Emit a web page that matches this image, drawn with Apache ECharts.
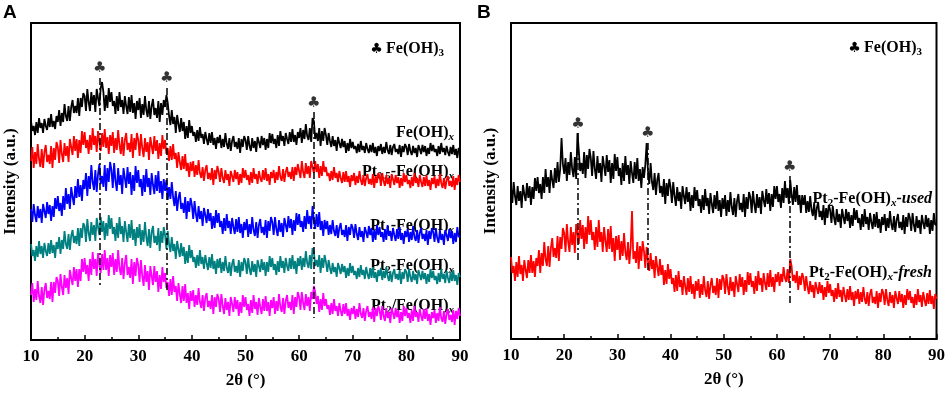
<!DOCTYPE html>
<html><head><meta charset="utf-8">
<script src="https://cdn.jsdelivr.net/npm/echarts@6/dist/echarts.min.js"></script>
<style>html,body{margin:0;padding:0;background:#fff}#c{width:948px;height:396px}</style>
</head><body><div id="c"></div>
<script>
// 2θ sampling (0.25° steps, 10–90)
const angles = [];
for (let i = 0; i <= 320; i++) angles.push(10 + i * 0.25);
const xTicks = [10, 20, 30, 40, 50, 60, 70, 80, 90];

// Panel A series (intensity, a.u., with the vertical offsets of the stacked plot)
const feOHx = [
219,209,214,205,218,207,222,212,217,207,221,214,210,222,213,226,213,219,211,224,
218,230,214,227,218,236,224,219,234,219,233,240,227,234,227,242,224,242,233,247,
244,229,251,238,229,248,235,245,228,251,242,234,252,258,248,229,245,232,252,238,
248,234,239,226,244,229,248,233,240,226,244,234,226,243,228,245,227,237,221,239,
230,242,222,236,225,244,230,223,239,221,234,241,225,232,222,239,218,237,225,240,
233,245,237,224,215,230,216,223,207,225,216,208,222,209,218,201,214,202,220,207,
214,204,208,198,210,199,213,202,206,196,208,201,195,207,197,208,195,202,191,203,
197,205,192,201,193,207,196,191,202,189,199,204,193,198,191,202,187,201,193,204,
200,190,204,194,189,202,192,199,188,203,198,192,204,195,202,190,201,192,207,197,
206,196,201,192,205,194,209,199,204,194,207,201,196,208,198,211,198,205,195,208,
202,212,197,210,201,216,204,200,212,198,222,219,201,207,199,212,194,209,199,212,
205,195,207,199,193,204,194,200,189,203,197,192,201,193,199,187,197,189,201,192,
198,191,194,187,196,188,199,190,194,187,197,191,187,195,188,197,187,193,184,194,
189,196,186,193,187,198,190,186,195,185,193,196,188,191,186,195,183,194,188,196,
193,185,196,189,185,194,187,192,183,195,191,186,195,188,194,184,192,186,197,189,
195,188,191,184,194,186,197,188,192,185,194,188,184,193,186,195,185,191,182,192,
190];
const pt05 = [
179,193,172,188,176,196,181,173,191,172,188,195,178,185,176,194,172,192,180,198,
193,177,200,186,178,197,184,194,178,201,193,185,204,189,201,182,200,187,209,195,
208,192,200,186,205,190,212,195,204,188,209,198,189,207,193,211,192,203,186,205,
194,208,187,202,190,210,195,186,203,184,200,207,190,197,188,206,182,202,190,207,
200,184,206,192,183,202,188,198,180,203,194,186,204,189,200,181,197,184,205,191,
200,186,192,179,194,180,196,181,187,172,188,178,170,184,171,186,169,177,163,178,
169,179,163,175,165,180,167,162,173,159,170,175,161,167,160,172,155,170,161,174,
168,158,172,162,157,170,160,166,154,169,164,158,170,161,168,155,166,157,172,162,
170,160,165,155,168,157,172,161,166,156,169,162,158,170,160,172,159,166,155,168,
162,170,157,168,160,174,163,159,171,158,168,173,163,168,161,173,159,173,165,176,
174,162,179,168,162,177,166,174,162,179,181,167,179,168,176,162,174,164,179,168,
173,164,167,159,169,160,173,162,167,158,169,162,157,168,158,169,158,164,153,165,
159,167,155,164,157,169,160,155,165,154,162,166,156,161,155,166,152,164,157,167,
164,154,167,159,154,165,156,162,152,166,161,155,165,157,163,152,162,154,167,158,
165,156,160,152,163,154,167,157,162,153,165,158,153,163,154,165,154,160,150,162,
156,164,152,161,154,166,157,152,162,151,160,164,154,159,153,164,150,162,155,165,
158];
const pt1 = [
131,118,136,125,118,134,122,131,117,136,129,122,138,126,135,119,134,123,142,131,
144,129,137,124,144,130,152,136,146,131,153,143,135,154,142,161,143,155,139,160,
151,167,144,164,151,175,158,150,170,148,166,176,156,164,153,175,149,172,158,178,
170,152,177,159,149,172,155,165,146,172,162,152,173,156,168,145,165,149,174,157,
170,153,161,144,165,148,171,153,162,145,167,155,146,165,149,169,147,159,141,161,
149,160,140,153,141,158,143,134,149,129,142,148,131,137,127,143,121,139,128,142,
135,121,139,126,118,134,121,129,114,132,125,117,131,119,127,111,124,112,130,117,
127,113,119,106,122,109,126,112,119,106,122,113,106,121,108,123,107,116,102,118,
110,121,103,116,106,123,110,104,118,102,115,121,107,113,105,120,102,119,109,123,
118,105,123,111,104,120,108,117,103,122,115,108,124,112,121,105,120,109,127,115,
126,113,119,108,124,111,130,116,124,111,134,119,111,126,113,128,110,119,104,120,
111,119,105,115,106,120,109,104,115,102,112,117,105,110,103,115,99,113,105,116,
112,102,116,106,100,113,103,109,98,113,108,102,114,105,112,98,110,100,115,105,
113,103,108,98,111,100,115,104,109,99,112,105,99,111,101,113,100,107,96,109,
103,111,98,108,100,114,103,99,110,97,107,112,101,106,99,110,95,109,101,112,
108,98,112,102,97,110,100,106,95,110,105,99,111,102,109,96,107,98,113,103,
104];
const pt2 = [
96,84,90,79,94,83,99,86,94,82,97,89,84,97,86,100,87,95,82,98,
91,103,86,100,91,109,96,91,106,90,104,110,97,104,96,112,94,112,102,117,
114,98,121,107,99,118,105,115,99,122,113,105,123,108,119,100,117,104,125,111,
122,106,113,99,117,102,123,106,114,98,119,108,98,116,102,120,100,111,94,113,
102,116,95,110,98,118,103,94,111,92,108,114,97,104,95,112,89,109,97,113,
105,91,109,96,88,103,89,96,81,99,91,83,97,84,93,76,89,77,95,82,
90,78,83,72,85,74,90,76,83,71,85,77,70,83,72,86,71,79,66,81,
72,82,67,78,69,84,72,67,78,64,76,81,68,74,67,80,63,78,69,82,
78,66,82,71,65,79,68,76,63,80,74,68,81,70,78,64,78,68,84,73,
82,70,76,65,79,68,84,72,79,67,82,74,69,82,71,85,71,79,66,82,
74,84,70,82,73,89,77,72,85,71,92,88,74,80,73,85,67,82,72,85,
78,68,80,72,66,77,68,73,63,77,72,66,76,68,74,62,72,64,77,67,
74,65,69,61,72,63,75,65,70,61,73,66,61,72,62,73,62,68,58,70,
64,72,60,69,62,73,64,59,69,58,67,71,61,66,60,70,56,68,61,71,
68,58,71,63,58,69,60,66,56,70,65,60,69,61,67,56,66,58,71,62,
69,60,64,56,67,58,71,61,66,57,69,62,57,68,59,70,59,65,55,67,
63];
const pt2Slash = [
45,57,38,51,40,59,44,37,53,35,50,57,42,49,41,58,38,58,47,63,
59,44,66,53,45,65,52,62,46,70,62,55,73,59,71,53,71,59,81,68,
82,66,75,59,81,65,88,71,81,64,87,76,67,86,70,90,70,82,64,85,
73,87,65,81,68,90,72,65,82,61,77,85,65,73,62,81,56,78,64,82,
75,58,80,64,54,75,58,69,50,74,64,55,74,58,69,48,65,51,73,58,
67,52,58,44,61,45,64,48,54,39,57,46,37,54,39,56,37,47,31,49,
39,50,33,45,35,52,38,32,45,29,42,47,33,39,31,45,26,43,33,46,
41,28,46,34,26,42,30,38,24,43,36,28,43,31,40,24,38,27,45,33,
43,30,36,24,40,27,45,31,38,25,42,33,26,41,29,44,29,38,24,40,
32,43,26,39,29,46,33,28,42,26,39,45,32,38,30,45,26,43,33,48,
43,30,48,37,30,46,34,43,29,48,41,54,48,36,44,28,41,30,47,34,
41,31,35,25,37,26,41,29,34,24,37,29,24,36,26,37,24,31,20,32,
26,34,21,31,23,37,26,22,32,19,29,34,23,28,21,33,18,32,24,34,
30,20,34,24,19,32,22,28,17,32,27,21,32,23,30,17,28,19,34,24,
32,22,27,17,30,19,34,23,28,18,31,24,19,31,21,32,19,26,15,28,
22,30,17,27,19,33,22,18,29,16,26,31,20,25,18,30,15,29,21,32,
24];

// Panel B series
const pt2Used = [
152,136,157,143,134,153,138,148,131,154,145,138,156,141,153,134,152,140,161,148,
162,146,155,140,162,146,170,152,162,146,169,159,151,171,156,177,157,170,201,175,
165,181,158,177,164,187,170,162,182,160,206,188,168,176,165,187,161,184,170,190,
181,163,188,170,160,183,166,176,157,183,173,163,184,167,179,156,176,160,185,168,
182,163,171,154,176,158,183,164,174,155,178,166,156,177,160,181,158,170,151,172,
161,174,196,168,155,176,157,149,166,144,159,166,146,153,142,160,135,156,143,160,
152,136,157,143,133,152,138,147,130,153,143,135,152,137,147,128,144,131,152,138,
149,133,140,126,144,129,150,133,141,125,146,135,126,144,130,148,128,139,122,141,
130,144,123,139,127,147,132,124,141,122,138,145,129,136,127,145,122,142,130,147,
142,126,148,135,126,145,131,142,125,148,139,132,150,135,146,128,145,132,153,140,
153,137,145,131,151,136,158,141,151,135,159,145,134,152,137,154,134,144,126,144,
134,144,126,138,127,143,129,123,136,119,131,137,122,128,119,134,114,131,121,134,
129,116,133,121,114,130,117,125,111,130,122,115,130,118,127,111,124,113,131,119,
129,116,121,109,125,112,130,115,122,109,126,117,110,125,112,127,111,120,106,122,
114,125,108,121,111,128,115,109,123,107,119,125,111,117,109,124,105,122,112,126,
121,108,126,114,107,123,111,119,105,124,116,110,124,112,121,105,119,108,126,114,
115];
const pt2Fresh = [
82,66,73,58,77,62,83,65,74,58,79,69,61,79,66,84,66,78,62,81,
73,89,66,86,73,97,80,73,93,72,91,101,82,91,81,103,78,102,90,111,
106,87,115,97,87,112,94,107,86,115,106,95,119,100,114,90,112,95,123,104,
119,99,107,89,112,92,119,97,107,87,112,98,87,110,90,113,87,101,78,103,
89,104,79,98,83,106,87,79,97,75,92,128,80,88,76,97,70,93,78,98,
88,71,92,78,68,86,70,79,61,83,72,63,80,64,74,54,69,55,75,60,
70,55,61,47,64,48,68,52,59,44,63,53,44,61,47,63,45,55,40,58,
48,60,41,55,44,63,49,42,58,40,54,61,46,53,44,61,41,60,49,64,
60,45,65,52,44,62,48,57,42,63,55,47,65,52,62,44,59,47,67,54,
66,52,58,45,63,48,68,54,61,47,66,56,49,66,52,69,52,62,47,65,
57,67,53,65,57,72,61,57,70,56,80,73,58,64,56,68,49,63,54,66,
61,48,63,52,45,58,47,54,41,57,51,45,57,46,54,39,52,42,58,46,
55,43,49,37,51,40,56,42,49,37,52,44,37,50,39,53,39,47,33,48,
40,50,35,47,37,52,40,35,47,33,45,50,36,42,35,48,31,46,37,50,
46,34,50,39,33,47,36,44,31,48,41,35,48,37,45,31,44,34,50,39,
48,36,42,31,45,34,50,37,44,32,47,39,33,46,35,49,35,43,30,45,
40];

// Fe(OH)3 reflections: positions, club heights and drop-line ranges
const peaksA = [22.8, 35.3, 62.7];
const clubYA = [272, 262, 237];
const dropTopA = [262, 252, 228];
const dropBottomA = [55, 50, 22];
const peaksB = [22.6, 35.7, 62.4];
const clubYB = [215, 206, 172];
const dropTopB = [206, 196, 163];
const dropBottomB = [76, 66, 33];

const SERIF = '"Liberation Serif","Times New Roman",serif';
const chart = echarts.init(document.getElementById('c'), null, {renderer: 'canvas'});

function xAxisCfg(gi) {
  return {
    type: 'value', gridIndex: gi, min: 10, max: 90, interval: 10,
    name: '2θ (°)', nameLocation: 'middle', nameGap: 32,
    nameTextStyle: {fontFamily: SERIF, fontWeight: 'bold', fontSize: 17, color: '#000'},
    axisLine: {show: true, onZero: false, lineStyle: {color: '#000', width: 2}},
    axisTick: {show: true, inside: true, length: 5, lineStyle: {color: '#000', width: 1.5}},
    minorTick: {show: true, splitNumber: 2, length: 3, lineStyle: {color: '#000', width: 1.5}},
    axisLabel: {fontFamily: SERIF, fontWeight: 'bold', fontSize: 17, color: '#000', margin: 8,
      formatter: v => xTicks.includes(v) ? String(v) : ''},
    splitLine: {show: false}
  };
}
function yAxisCfg(gi, max) {
  return {
    type: 'value', gridIndex: gi, min: 0, max: max,
    name: 'Intensity (a.u.)', nameLocation: 'middle', nameGap: 12,
    nameTextStyle: {fontFamily: SERIF, fontWeight: 'bold', fontSize: 17, color: '#000'},
    axisLine: {show: true, lineStyle: {color: '#000', width: 2}},
    axisTick: {show: false}, axisLabel: {show: false}, splitLine: {show: false}
  };
}
function lineSeries(data, color, xi, yi) {
  return {
    type: 'line', xAxisIndex: xi, yAxisIndex: yi, showSymbol: false, symbol: 'none',
    data: angles.map((a, i) => [a, data[i]]), silent: true, animation: false,
    lineStyle: {color: color, width: 1.8}
  };
}
function markSeries(peaks, clubY, top, bottom, xi, yi) {
  return {
    type: 'scatter', xAxisIndex: xi, yAxisIndex: yi, symbolSize: 0.1, silent: true, animation: false,
    data: peaks.map((p, i) => [p, clubY[i]]),
    itemStyle: {color: '#000'},
    label: {show: true, position: 'inside', formatter: '♣', fontSize: 15, color: '#000',
      fontFamily: '"DejaVu Sans",sans-serif'},
    markLine: {
      silent: true, symbol: 'none', animation: false, label: {show: false},
      lineStyle: {color: '#000', width: 1.5, type: [7, 3, 2, 3]},
      data: peaks.map((p, i) => [{coord: [p, top[i]]}, {coord: [p, bottom[i]]}])
    }
  };
}
const rich = {
  b: {fontFamily: SERIF, fontWeight: 'bold', fontSize: 16, color: '#000', lineHeight: 20},
  s: {fontFamily: SERIF, fontWeight: 'bold', fontSize: 11, color: '#000', lineHeight: 20, verticalAlign: 'bottom', padding: [8, 0, 0, 0]},
  si: {fontFamily: SERIF, fontWeight: 'bold', fontStyle: 'italic', fontSize: 11, color: '#000', lineHeight: 20, verticalAlign: 'bottom', padding: [8, 0, 0, 0]},
  i: {fontFamily: SERIF, fontWeight: 'bold', fontStyle: 'italic', fontSize: 16, color: '#000', lineHeight: 20},
  c: {fontFamily: '"DejaVu Sans",sans-serif', fontSize: 14, color: '#000', lineHeight: 20}
};
function label(x, y, text) {
  return {type: 'text', x: x, y: y, silent: true,
    style: {text: text, rich: rich, align: 'right', verticalAlign: 'middle', fill: '#000'}};
}

chart.setOption({
  animation: false,
  backgroundColor: '#fff',
  grid: [
    {left: 31, top: 23, width: 429, height: 317, show: true, borderColor: '#000', borderWidth: 2},
    {left: 511, top: 23, width: 426, height: 316, show: true, borderColor: '#000', borderWidth: 2}
  ],
  xAxis: [xAxisCfg(0), xAxisCfg(1)],
  yAxis: [yAxisCfg(0, 317), yAxisCfg(1, 316)],
  series: [
    lineSeries(pt2Slash, '#ff00ff', 0, 0),
    lineSeries(pt2, '#008080', 0, 0),
    lineSeries(pt1, '#0000ff', 0, 0),
    lineSeries(pt05, '#ff0000', 0, 0),
    lineSeries(feOHx, '#000000', 0, 0),
    markSeries(peaksA, clubYA, dropTopA, dropBottomA, 0, 0),
    lineSeries(pt2Fresh, '#ff0000', 1, 1),
    lineSeries(pt2Used, '#000000', 1, 1),
    markSeries(peaksB, clubYB, dropTopB, dropBottomB, 1, 1)
  ],
  graphic: [
    {type: 'text', x: 3, y: 3, silent: true, style: {text: 'A', font: 'bold 19px "Liberation Sans",Arial,sans-serif', fill: '#000'}},
    {type: 'text', x: 477, y: 3, silent: true, style: {text: 'B', font: 'bold 19px "Liberation Sans",Arial,sans-serif', fill: '#000'}},
    label(444, 49, '{c|♣} {b|Fe(OH)}{s|3}'),
    label(454, 133, '{b|Fe(OH)}{si|x}'),
    label(454, 172, '{b|Pt}{s|0.5}{b|-Fe(OH)}{si|x}'),
    label(454, 226, '{b|Pt}{s|1}{b|-Fe(OH)}{si|x}'),
    label(454, 266, '{b|Pt}{s|2}{b|-Fe(OH)}{si|x}'),
    label(454, 306, '{b|Pt}{s|2}{b|/Fe(OH)}{si|x}'),
    label(922, 48, '{c|♣} {b|Fe(OH)}{s|3}'),
    label(932, 199, '{b|Pt}{s|2}{b|-Fe(OH)}{si|x}{i|-used}'),
    label(932, 273, '{b|Pt}{s|2}{b|-Fe(OH)}{si|x}{i|-fresh}')
  ]
});
</script></body></html>
